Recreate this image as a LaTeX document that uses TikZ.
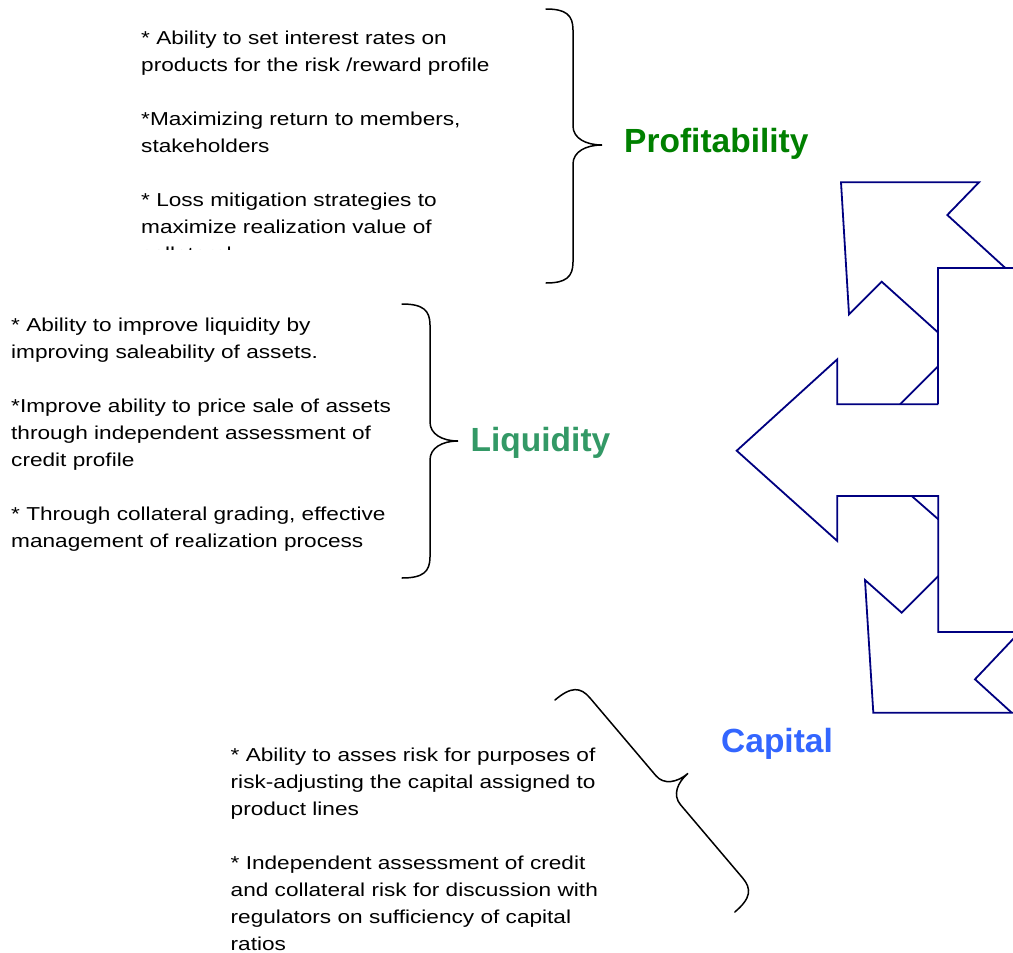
\documentclass[tikz,border=0pt]{standalone}
\usepackage{fontspec}
\setmainfont{Liberation Sans}
\newfontfamily\bodyfont[FakeStretch=1.21]{Liberation Sans}
\newfontfamily\headfont{Liberation Sans}

\definecolor{cyclenavy}{RGB}{0,0,128}
\definecolor{profgreen}{RGB}{0,128,0}
\definecolor{liqgreen}{RGB}{51,153,102}
\definecolor{capblue}{RGB}{51,102,255}

% curly brace in local coordinates: ends at (0,0) and (0,L), bulging towards +x
% #1 length, #2 tip position, #3 shoulder offset, #4 tip offset, #5 end curl, #6 tip curl
\newcommand\bracecurve[6]{%
  (0,0) .. controls ({0.75*#3},0) and (#3,{0.3*#5}) .. (#3,#5)
  -- (#3,{#2-#6}) .. controls (#3,{#2-0.35*#6}) and ({#3+0.45*(#4-#3)},#2) .. (#4,#2)
  .. controls ({#3+0.45*(#4-#3)},#2) and (#3,{#2+0.35*#6}) .. (#3,{#2+#6})
  -- (#3,{#1-#5}) .. controls (#3,{#1-0.3*#5}) and ({0.75*#3},#1) .. (0,#1)}

% bullet star that is not taken as the starred form of \\
\newcommand\bstar{{*}}

\tikzset{
  note/.style={anchor=base west, inner sep=0pt, text=black,
    font=\bodyfont\fontsize{18.7}{27}\selectfont},
  headline/.style={anchor=base west, inner sep=0pt,
    font=\headfont\bfseries\fontsize{33.5}{40}\selectfont},
  brace line/.style={draw=black, line width=1.5pt, line cap=round},
  cycle line/.style={draw=cyclenavy, line width=1.8pt, line join=miter},
}

\begin{document}
\begin{tikzpicture}[x=1pt,y=-1pt]
\useasboundingbox (0,0) rectangle (1013,953);

% ---- Profitability ----
\begin{scope}
  \clip (0,0) rectangle (600,249.3);
  \node[note] (profText) at (141,45) {\begin{tabular}[t]{@{}l@{}}
    \bstar{} Ability to set interest rates on\\
    products for the risk /reward profile\\
    \\
    \bstar Maximizing return to members,\\
    stakeholders\\
    \\
    \bstar{} Loss mitigation strategies to\\
    maximize realization value of\\
    collateral
  \end{tabular}};
\end{scope}
\draw[brace line, shift={(546,9)}] \bracecurve{274}{136}{27}{56}{21}{19};
\node[headline, text=profgreen] (profHead) at (624,152) {Profitability};

% ---- Liquidity ----
\node[note] (liqText) at (11,331) {\begin{tabular}[t]{@{}l@{}}
  \bstar{} Ability to improve liquidity by\\
  improving saleability of assets.\\
  \\
  \bstar Improve ability to price sale of assets\\
  through independent assessment of\\
  credit profile\\
  \\
  \bstar{} Through collateral grading, effective\\
  management of realization process
\end{tabular}};
\draw[brace line, shift={(402,304)}] \bracecurve{274}{137}{28}{56}{21}{19};
\node[headline, text=liqgreen] (liqHead) at (470.5,451) {Liquidity};

% ---- Capital ----
\node[note] (capText) at (230.5,761) {\begin{tabular}[t]{@{}l@{}}
  \bstar{} Ability to asses risk for purposes of\\
  risk-adjusting the capital assigned to\\
  product lines\\
  \\
  \bstar{} Independent assessment of credit\\
  and collateral risk for discussion with\\
  regulators on sufficiency of capital\\
  ratios
\end{tabular}};
\draw[brace line, shift={(555,700)}, rotate=40.3] \bracecurve{278}{142}{28}{54}{21}{19};
\node[headline, text=capblue] (capHead) at (721,752) {Capital};

% ---- cycle of bent arrows ----
\begin{scope}
  \clip (0,0) rectangle (1013,953);
  % upper arrow, head pointing up-left
  \draw[cycle line] (1025,268.3) -- (938.3,268.3) -- (938.3,404.3);
  \draw[cycle line] (1005,267.7) -- (947.3,215) -- (979,182.3) -- (841,182.3)
    -- (849,314.3) -- (881.7,281.7) -- (938.3,332.7);
  \draw[cycle line] (938.3,366) -- (900,404.3);
  % middle arrow, head pointing left
  \draw[cycle line] (938.3,404.3) -- (837.3,404.3) -- (837.3,359.3) -- (736.7,450.7)
    -- (837.3,541) -- (837.3,496) -- (938.3,496) -- (938.3,632) -- (1025,632);
  \draw[cycle line] (911.7,496) -- (938.3,519.3);
  % lower arrow, head pointing down-left
  \draw[cycle line] (938.3,576) -- (901.7,612.7) -- (865,580) -- (873.3,712.7) -- (1025,712.7);
  \draw[cycle line] (1020.7,631) -- (975,679.3) -- (1011.7,712.7);
\end{scope}
\end{tikzpicture}
\end{document}
